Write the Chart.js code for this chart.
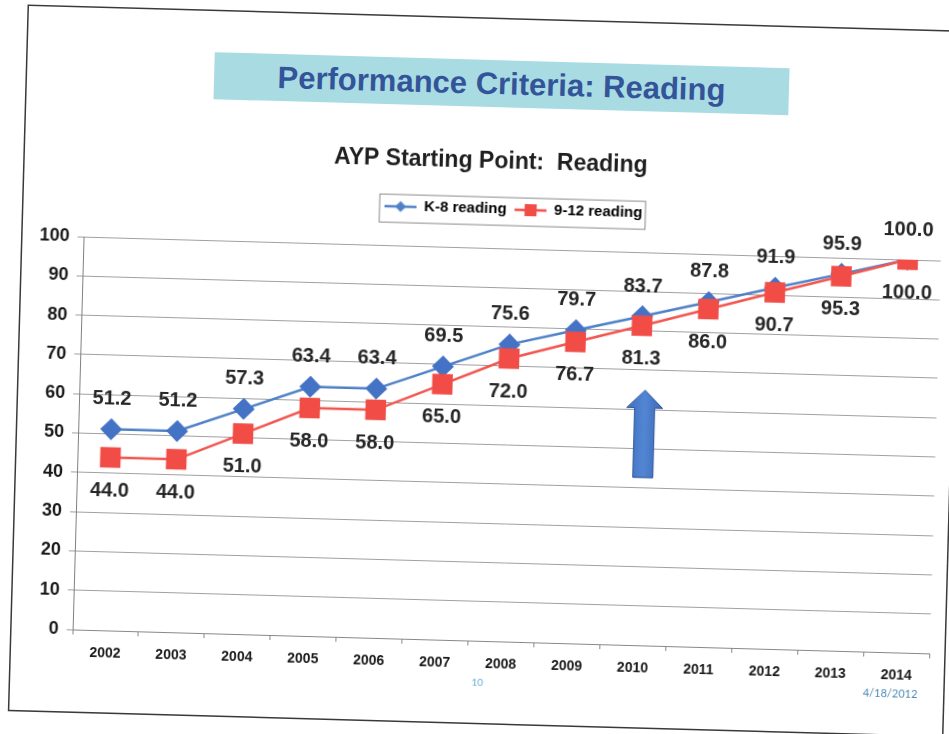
<!DOCTYPE html>
<html>
<head>
<meta charset="utf-8">
<script src="https://cdn.jsdelivr.net/npm/chart.js@4.4.1/dist/chart.umd.min.js"></script>
<style>
  html, body { margin:0; padding:0; background:#fff; width:949px; height:734px; overflow:hidden; }
  #slide {
    position:absolute; left:29px; top:6px; width:933px; height:704px;
    background:#fff; box-shadow:0 0 0 1.5px #3a3a3a;
    transform-origin:0 0; transform:rotate(1.6deg);
  }
  #banner {
    position:absolute; left:187px; top:41px; width:575px; height:47px;
    background:#a9dbe3; display:flex; align-items:center; justify-content:center;
    font:bold 31px "Liberation Sans", Arial, sans-serif; color:#34549a;
  }
  #chart { position:absolute; left:0; top:0; }
  .foot { position:absolute; font:11px Lato, "Open Sans", sans-serif; color:#4d8ab5; transform:translate(-50%,-50%); }
</style>
</head>
<body>
<div id="slide">
  <div id="banner">Performance Criteria: Reading</div>
  <canvas id="chart" width="933" height="704"></canvas>
  <div class="foot" style="left:467px;top:663px;color:#6aaed6;font-size:10px">10</div>
  <div class="foot" style="left:880px;top:662px">4/18/2012</div>
</div>
<script>
// =================== DATA ===================
const years = ["2002","2003","2004","2005","2006","2007","2008","2009","2010","2011","2012","2013","2014"];
const k8Reading = [51.2, 51.2, 57.3, 63.4, 63.4, 69.5, 75.6, 79.7, 83.7, 87.8, 91.9, 95.9, 100.0];
const hsReading = [44.0, 44.0, 51.0, 58.0, 58.0, 65.0, 72.0, 76.7, 81.3, 86.0, 90.7, 95.3, 100.0];
const seriesNames = ["K-8 reading", "9-12 reading"];
const yMin = 0, yMax = 100, yStep = 10;

const FONT = '"Liberation Sans", Arial, sans-serif';
const blue = "#4472c4", blueLine = "#4f81c7";
const red = "#f24c47", redLine = "#f2564f";

// small line+marker images for the legend (Excel style)
function legendMark(color, shape){
  const c = document.createElement("canvas");
  c.width = 32; c.height = 14;
  const g = c.getContext("2d");
  g.strokeStyle = color; g.lineWidth = 2.5;
  g.beginPath(); g.moveTo(0,7); g.lineTo(32,7); g.stroke();
  g.fillStyle = color;
  if(shape === "diamond"){
    g.beginPath(); g.moveTo(16,1.5); g.lineTo(21.5,7); g.lineTo(16,12.5); g.lineTo(10.5,7); g.closePath(); g.fill();
  } else {
    g.fillRect(10,1,12,12);
  }
  return c;
}
const marks = [legendMark(blueLine,"diamond"), legendMark(red,"square")];

// =================== PLUGINS ===================
const slideLayout = {
  id: "slideLayout",
  afterInit(chart){
    const lg = chart.legend;
    const fit = lg.fit;
    lg.fit = function(){ fit.call(this); this.height = 54.4; };
  },
  afterLayout(chart){
    chart.titleBlock.left += 6; chart.titleBlock.right += 6;
    chart.legend.left += 30; chart.legend.right += 30;
    (chart.legend.legendHitBoxes || []).forEach(h => { h.left += 30; });
  },
  afterDraw(chart){
    const hb = chart.legend.legendHitBoxes;
    if(!hb || !hb.length) return;
    const l = hb[0].left - 5, r = hb[hb.length-1].left + hb[hb.length-1].width + 3;
    const cy = hb[0].top + hb[0].height/2;
    const ctx = chart.ctx;
    ctx.save();
    ctx.strokeStyle = "#8a8a8a"; ctx.lineWidth = 1;
    ctx.strokeRect(l, cy - 12, r - l, 28);
    ctx.restore();
  }
};

const valueLabels = {
  id: "valueLabels",
  afterDatasetsDraw(chart){
    const ctx = chart.ctx;
    ctx.save();
    ctx.font = "bold 20px " + FONT;
    ctx.fillStyle = "#262626";
    ctx.textAlign = "center";
    ctx.textBaseline = "middle";
    chart.data.datasets.forEach((ds, i) => {
      const off = i === 0 ? -30 : 33;
      chart.getDatasetMeta(i).data.forEach((pt, j) => {
        ctx.fillText(ds.data[j].toFixed(1), pt.x, pt.y + off);
      });
    });
    ctx.restore();
  }
};

// the big up arrow next to 2010
const arrow = {
  id: "arrow",
  afterDatasetsDraw(chart){
    const xs = chart.scales.x, ys = chart.scales.y;
    const cx = xs.getPixelForValue(8) + 5;
    const tip = ys.getPixelForValue(64.9), neck = ys.getPixelForValue(60.4), base = ys.getPixelForValue(42.7);
    const ctx = chart.ctx;
    ctx.save();
    const grad = ctx.createLinearGradient(cx - 18, 0, cx + 18, 0);
    grad.addColorStop(0, "#3f6fbf"); grad.addColorStop(0.5, "#5286d3"); grad.addColorStop(1, "#3c69b6");
    ctx.fillStyle = grad;
    ctx.strokeStyle = "#2d5597"; ctx.lineWidth = 1;
    ctx.beginPath();
    ctx.moveTo(cx, tip);
    ctx.lineTo(cx + 18, neck);
    ctx.lineTo(cx + 10, neck);
    ctx.lineTo(cx + 10, base);
    ctx.lineTo(cx - 10, base);
    ctx.lineTo(cx - 10, neck);
    ctx.lineTo(cx - 18, neck);
    ctx.closePath();
    ctx.fill(); ctx.stroke();
    ctx.restore();
  }
};

// =================== CHART ===================
new Chart(document.getElementById("chart"), {
  type: "line",
  data: {
    labels: years,
    datasets: [{
      label: seriesNames[0],
      data: k8Reading,
      borderColor: blueLine,
      backgroundColor: blue,
      borderWidth: 2.5,
      pointStyle: "rectRot",
      pointRadius: 11,
      pointBorderWidth: 0,
      tension: 0,
      order: 1
    }, {
      label: seriesNames[1],
      data: hsReading,
      borderColor: redLine,
      backgroundColor: red,
      borderWidth: 2.5,
      pointStyle: "rect",
      pointRadius: 14.5,
      pointBorderWidth: 0,
      tension: 0,
      order: 0
    }]
  },
  options: {
    responsive: false,
    animation: false,
    layout: { padding: { top: 0, left: 0, right: 13, bottom: 0 } },
    plugins: {
      title: {
        display: true,
        text: "AYP Starting Point:  Reading",
        font: { family: FONT, size: 23, weight: "bold" },
        color: "#1f1f1f",
        padding: { top: 129, bottom: 18 }
      },
      legend: {
        display: true,
        labels: {
          font: { family: FONT, size: 15, weight: "bold" },
          color: "#1a1a1a",
          usePointStyle: true,
          pointStyleWidth: 32,
          padding: 8,
          generateLabels: chart => chart.data.datasets.map((ds, i) => ({
            text: ds.label, pointStyle: marks[i], fillStyle: ds.borderColor,
            strokeStyle: ds.borderColor, lineWidth: 0, hidden: false, datasetIndex: i
          }))
        }
      },
      tooltip: { enabled: false }
    },
    scales: {
      x: {
        offset: true,
        grid: { display: true, drawOnChartArea: false, drawTicks: true, tickLength: 5, offset: true, color: "#888" },
        border: { color: "#888", width: 1 },
        ticks: { font: { family: FONT, size: 14, weight: "bold" }, color: "#1a1a1a", padding: 10, maxRotation: 0, autoSkip: false },
        afterFit: s => { s.height = 82; }
      },
      y: {
        min: yMin, max: yMax,
        ticks: { stepSize: yStep, font: { family: FONT, size: 18, weight: "bold" }, color: "#1a1a1a", padding: 8 },
        grid: { color: "#a0a0a0", lineWidth: 1, drawTicks: true, tickLength: 6 },
        border: { color: "#808080", width: 1 },
        afterFit: s => { s.width = 61; }
      }
    }
  },
  plugins: [slideLayout, valueLabels, arrow]
});
</script>
</body>
</html>
